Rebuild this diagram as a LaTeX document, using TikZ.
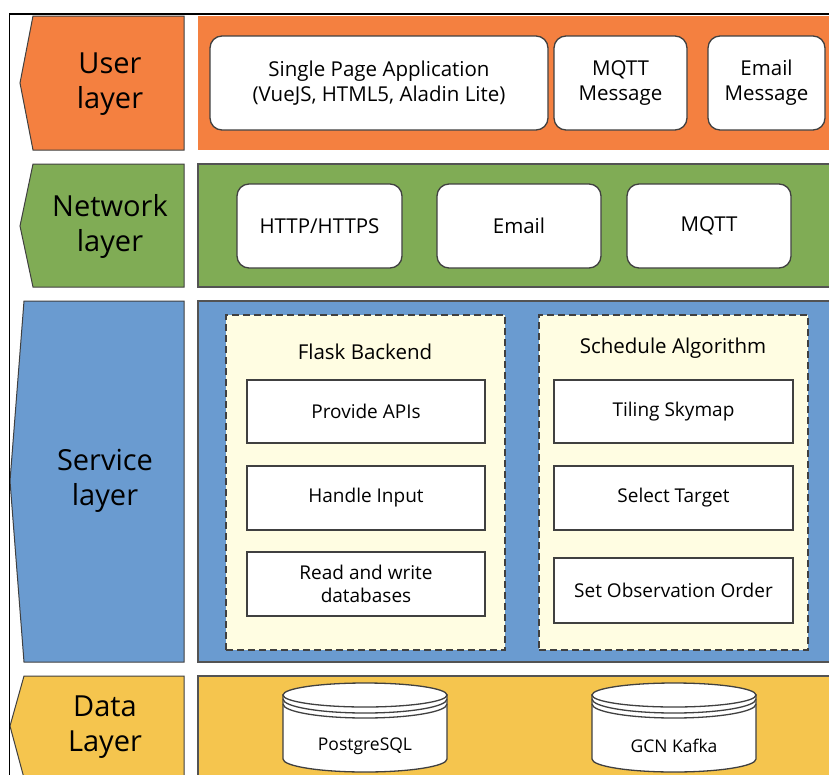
\documentclass[tikz,border=0pt]{standalone}
\usepackage{fontspec}
\setmainfont{Open Sans}
\definecolor{uorange}{RGB}{244,128,64}
\definecolor{ngreen}{RGB}{128,172,85}
\definecolor{sblue}{RGB}{106,155,208}
\definecolor{dyellow}{RGB}{245,197,78}
\definecolor{lyellow}{RGB}{255,253,226}
\definecolor{edgegray}{RGB}{64,64,64}
\begin{document}
\begin{tikzpicture}[x=1pt,y=-1pt,
  labelshape/.style={draw=edgegray,line width=1pt},
  layerbox/.style={draw=edgegray!90,line width=1.2pt},
  labeltext/.style={align=center,font=\fontsize{29}{35}\selectfont},
  ubox/.style={draw=edgegray,line width=1.3pt,fill=white,rounded corners=12pt,align=center,font=\fontsize{20.5}{25}\selectfont,inner sep=0pt},
  groupbox/.style={draw=edgegray,line width=2.4pt,dash pattern=on 7pt off 4pt,fill=lyellow,inner sep=0pt},
  ibox/.style={draw=edgegray,line width=1.3pt,fill=white,align=center,font=\fontsize{19}{23}\selectfont,inner sep=0pt,minimum width=238pt,minimum height=64pt},
  titletext/.style={font=\fontsize{20.5}{25}\selectfont},
  cyl/.style={draw=edgegray,line width=1.3pt,fill=white},
  cyltext/.style={font=\fontsize{17.5}{21}\selectfont}
]
\useasboundingbox (0,0) rectangle (829,774);
\fill[white] (0,0) rectangle (829,774);

% layer content areas
\fill[uorange] (198,16) rectangle (840,150);
\draw[layerbox,fill=ngreen] (198,164) rectangle (840,287);
\draw[layerbox,fill=sblue] (198,301) rectangle (840,662);
\draw[layerbox,fill=dyellow] (198,676) rectangle (840,790);

% layer labels
\draw[labelshape,fill=uorange] (33,16) -- (184,16) -- (184,150) -- (33,150) -- (20,83) -- cycle;
\draw[labelshape,fill=ngreen] (33,164) -- (184,164) -- (184,287) -- (33,287) -- (20,226) -- cycle;
\draw[labelshape,fill=sblue] (24,301) -- (184,301) -- (184,662) -- (24,662) -- (10,481) -- cycle;
\draw[labelshape,fill=dyellow] (24,676) -- (184,676) -- (184,778) -- (24,778) -- (10,726) -- cycle;

\node[labeltext] (luser) at (110,84) {User\\layer};
\node[labeltext] (lnet) at (110,226) {Network\\layer};
\node[labeltext] (lserv) at (105,481) {Service\\layer};
\node[labeltext] (ldata) at (105,727) {Data\\Layer};

% outer frame
\draw[black,line width=1.3pt] (9.5,790) -- (9.5,14) -- (840,14);

% user layer
\node[ubox,minimum width=338pt,minimum height=94pt] (spa) at (379,83) {Single Page Application\\(VueJS, HTML5, Aladin Lite)};
\node[ubox,minimum width=133pt,minimum height=94pt] (mqttmsg) at (620.5,83) {MQTT\\Message};
\node[ubox,minimum width=117pt,minimum height=94pt] (emailmsg) at (766.5,83) {Email\\Message};

% network layer
\node[ubox,minimum width=165pt,minimum height=84pt] (http) at (319.5,226) {HTTP/HTTPS};
\node[ubox,minimum width=164pt,minimum height=84pt] (email) at (519,226) {Email};
\node[ubox,minimum width=164pt,minimum height=84pt] (mqtt) at (709,226) {MQTT};

% service layer
\node[groupbox,minimum width=279pt,minimum height=335pt] (flask) at (365.5,482.5) {};
\node[groupbox,minimum width=269pt,minimum height=335pt] (sched) at (673.5,482.5) {};
\node[titletext] (flasktitle) at (365,352) {Flask Backend};
\node[titletext] (schedtitle) at (673,348) {Schedule Algorithm};

\node[ibox,minimum height=63pt] (apis) at (366,411.5) {Provide APIs};
\node[ibox] (input) at (366,498) {Handle Input};
\node[ibox] (rw) at (366,584) {Read and write\\databases};

\node[ibox,minimum width=239pt,minimum height=63pt] (tiling) at (673.5,411.5) {Tiling Skymap};
\node[ibox,minimum width=239pt] (select) at (673.5,498) {Select Target};
\node[ibox,minimum width=239pt,minimum height=65pt] (order) at (673.5,590.5) {Set Observation Order};

% data layer cylinders
\foreach \cx in {365,674}{
  \draw[cyl] (\cx-82,695) -- (\cx-82,759) arc[start angle=180,end angle=0,x radius=82,y radius=13] -- (\cx+82,695) -- cycle;
  \draw[cyl] (\cx,695) ellipse[x radius=82,y radius=12];
  \draw[edgegray,line width=1.3pt] (\cx-82,699) arc[start angle=180,end angle=0,x radius=82,y radius=14];
  \draw[edgegray,line width=1.3pt] (\cx-82,704) arc[start angle=180,end angle=0,x radius=82,y radius=14];
}
\node[cyltext] (pg) at (365,746) {PostgreSQL};
\node[cyltext] (kafka) at (674,746) {GCN Kafka};
\end{tikzpicture}
\end{document}
